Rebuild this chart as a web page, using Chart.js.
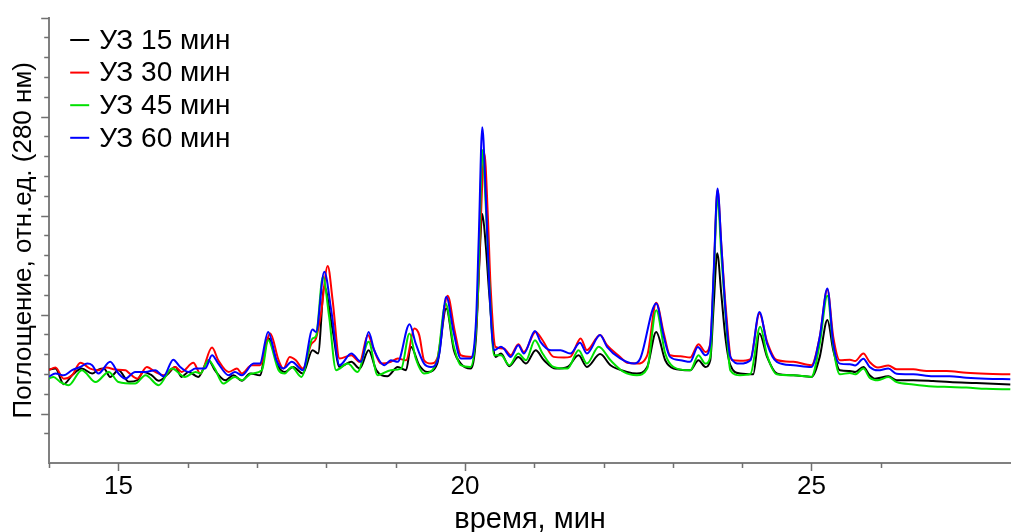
<!DOCTYPE html>
<html>
<head>
<meta charset="utf-8">
<script src="https://cdn.jsdelivr.net/npm/chart.js@4.4.1/dist/chart.umd.min.js"></script>
<style>
  html, body { margin: 0; padding: 0; background: #fff; }
  #wrap { width: 1011px; height: 532px; }
</style>
</head>
<body>
<div id="wrap"><canvas id="hplcChart"></canvas></div>
<script>
const ctx = document.getElementById("hplcChart").getContext("2d");

const labels = ['УЗ 15 мин', 'УЗ 30 мин', 'УЗ 45 мин', 'УЗ 60 мин'];
const colors = ['#000000', '#ff0000', '#00e000', '#0000ff'];

// время, мин / поглощение (отн.ед.)
const t15 = [13.99, 14.09, 14.21, 14.33, 14.47, 14.62, 14.71, 14.79, 14.88, 15.00, 15.15, 15.27, 15.36, 15.48, 15.58, 15.72, 15.82, 15.91, 16.01, 16.15, 16.30, 16.39, 16.54, 16.66, 16.78, 16.90, 17.04, 17.16, 17.31, 17.40, 17.52, 17.66, 17.80, 17.88, 17.97, 18.09, 18.19, 18.36, 18.48, 18.61, 18.72, 18.88, 19.03, 19.15, 19.22, 19.34, 19.46, 19.60, 19.73, 19.84, 19.94, 20.08, 20.16, 20.20, 20.25, 20.30, 20.35, 20.44, 20.52, 20.64, 20.77, 20.88, 21.02, 21.14, 21.31, 21.48, 21.64, 21.76, 21.95, 22.10, 22.34, 22.48, 22.63, 22.76, 22.89, 23.01, 23.25, 23.37, 23.47, 23.54, 23.59, 23.64, 23.70, 23.76, 23.83, 23.97, 24.16, 24.25, 24.36, 24.50, 24.74, 25.00, 25.12, 25.23, 25.315, 25.41, 25.555, 25.63, 25.75, 25.84, 25.915, 26.11, 26.23, 26.47, 26.755, 26.995, 27.38, 27.87];
const y15 = [42.2, 42.7, 34.8, 39.3, 42.7, 40.2, 42.2, 42.7, 38.5, 41.9, 36.0, 36.8, 41.0, 39.3, 36.5, 40.2, 43.5, 38.5, 41.0, 38.5, 46.9, 41.9, 36.8, 39.3, 36.5, 40.2, 39.3, 58.0, 43.5, 41.0, 43.5, 40.2, 52.0, 50.3, 84.0, 62.1, 43.5, 46.1, 42.7, 52.0, 41.9, 38.8, 43.5, 41.9, 53.7, 44.4, 41.0, 45.2, 73.0, 52.0, 45.2, 42.7, 58.7, 90.0, 120.8, 105.0, 80.6, 48.6, 50.3, 43.9, 48.6, 45.2, 52.0, 46.9, 42.7, 43.5, 49.4, 43.5, 50.0, 44.4, 41.0, 40.2, 43.5, 61.2, 46.9, 42.7, 41.8, 46.9, 43.5, 46.9, 75.0, 100.9, 80.0, 58.0, 44.4, 40.2, 39.8, 60.4, 48.6, 40.2, 39.3, 38.5, 48.6, 67.2, 52.0, 41.8, 41.5, 41.0, 43.5, 39.3, 37.6, 38.8, 36.8, 36.8, 36.4, 35.9, 35.4, 34.7];

const t30 = [13.99, 14.09, 14.21, 14.33, 14.45, 14.59, 14.71, 14.83, 14.95, 15.10, 15.15, 15.27, 15.41, 15.53, 15.65, 15.82, 15.91, 16.08, 16.18, 16.35, 16.44, 16.59, 16.71, 16.78, 16.92, 17.04, 17.19, 17.31, 17.38, 17.47, 17.56, 17.66, 17.78, 17.85, 17.92, 18.02, 18.09, 18.19, 18.36, 18.48, 18.60, 18.67, 18.79, 18.93, 19.03, 19.15, 19.27, 19.34, 19.41, 19.51, 19.60, 19.75, 19.85, 19.94, 20.11, 20.18, 20.22, 20.28, 20.33, 20.37, 20.44, 20.56, 20.66, 20.77, 20.85, 21.02, 21.12, 21.28, 21.43, 21.52, 21.67, 21.76, 21.95, 22.05, 22.24, 22.34, 22.48, 22.63, 22.76, 22.87, 22.96, 23.11, 23.25, 23.37, 23.47, 23.54, 23.59, 23.645, 23.70, 23.76, 23.85, 23.97, 24.12, 24.25, 24.36, 24.50, 24.74, 25.00, 25.12, 25.23, 25.315, 25.41, 25.555, 25.63, 25.75, 25.84, 25.96, 26.11, 26.23, 26.47, 26.66, 26.95, 27.235, 27.52, 27.87];
const y30 = [41.9, 43.2, 37.6, 39.3, 45.6, 42.7, 41.9, 43.2, 42.2, 41.9, 40.5, 37.6, 43.5, 41.0, 39.3, 43.5, 41.0, 45.6, 40.2, 53.3, 46.9, 41.0, 42.7, 40.2, 44.4, 44.4, 60.4, 46.9, 42.7, 48.6, 46.9, 42.7, 55.0, 57.9, 70.0, 94.5, 77.3, 47.8, 49.4, 46.1, 59.6, 53.7, 45.2, 46.1, 47.8, 46.9, 62.9, 59.6, 46.9, 45.2, 47.8, 79.5, 62.1, 49.4, 48.6, 73.9, 110.0, 151.4, 120.0, 84.0, 53.7, 52.8, 49.4, 55.0, 51.1, 61.2, 57.0, 48.6, 48.3, 48.6, 57.9, 52.0, 59.6, 54.5, 48.6, 45.6, 45.2, 49.4, 75.9, 60.4, 49.4, 48.9, 48.3, 55.0, 51.1, 55.3, 90.0, 132.9, 105.0, 75.0, 47.0, 46.6, 47.5, 70.5, 56.2, 47.0, 46.1, 44.4, 58.7, 82.6, 58.7, 46.9, 47.2, 46.5, 50.3, 46.0, 43.2, 44.3, 42.3, 42.3, 41.5, 41.5, 40.6, 40.1, 39.8];

const t45 = [13.99, 14.06, 14.16, 14.28, 14.47, 14.67, 14.86, 15.00, 15.24, 15.39, 15.58, 15.77, 15.96, 16.11, 16.18, 16.30, 16.39, 16.51, 16.68, 16.78, 16.92, 17.07, 17.16, 17.31, 17.40, 17.50, 17.64, 17.80, 17.85, 17.95, 18.04, 18.14, 18.31, 18.45, 18.61, 18.74, 18.93, 19.08, 19.20, 19.29, 19.41, 19.60, 19.72, 19.84, 19.94, 20.08, 20.18, 20.21, 20.25, 20.30, 20.35, 20.42, 20.52, 20.64, 20.77, 20.88, 21.01, 21.12, 21.28, 21.48, 21.64, 21.76, 21.93, 22.10, 22.29, 22.48, 22.63, 22.76, 22.89, 23.01, 23.25, 23.37, 23.47, 23.54, 23.59, 23.645, 23.70, 23.76, 23.83, 23.97, 24.12, 24.26, 24.36, 24.50, 24.74, 25.00, 25.12, 25.23, 25.315, 25.41, 25.555, 25.63, 25.75, 25.84, 25.96, 26.11, 26.23, 26.47, 26.755, 26.995, 27.235, 27.52, 27.87];
const y45 = [37.6, 38.5, 35.9, 34.3, 41.9, 35.9, 41.0, 35.9, 35.1, 39.3, 34.3, 42.7, 38.5, 41.0, 40.2, 46.9, 42.7, 35.1, 38.5, 36.8, 40.2, 41.9, 57.0, 41.9, 40.2, 43.5, 38.5, 57.9, 59.0, 89.1, 68.8, 41.9, 45.2, 41.0, 56.2, 39.3, 41.9, 42.7, 60.4, 47.8, 40.2, 47.0, 75.6, 53.7, 44.4, 43.5, 75.6, 110.0, 153.1, 125.0, 87.4, 49.4, 49.4, 44.4, 50.3, 46.9, 57.0, 50.3, 43.5, 42.7, 52.0, 45.2, 53.7, 46.9, 41.0, 39.3, 42.7, 72.2, 50.3, 43.5, 41.8, 49.4, 45.2, 48.6, 88.0, 129.5, 100.0, 70.0, 41.8, 39.3, 40.0, 63.8, 49.4, 39.8, 39.3, 38.5, 55.3, 79.5, 53.6, 39.8, 40.5, 39.8, 42.7, 38.1, 36.8, 38.4, 35.9, 34.7, 33.7, 33.4, 33.1, 32.5, 32.2];

const t60 = [13.99, 14.09, 14.21, 14.33, 14.45, 14.55, 14.62, 14.71, 14.88, 15.00, 15.10, 15.24, 15.39, 15.53, 15.65, 15.79, 15.89, 16.01, 16.11, 16.25, 16.35, 16.44, 16.59, 16.68, 16.78, 16.95, 17.04, 17.16, 17.28, 17.38, 17.50, 17.66, 17.80, 17.85, 17.97, 18.07, 18.19, 18.36, 18.50, 18.61, 18.69, 18.84, 18.93, 19.03, 19.20, 19.29, 19.41, 19.51, 19.63, 19.73, 19.84, 19.94, 20.08, 20.16, 20.20, 20.25, 20.30, 20.35, 20.42, 20.52, 20.56, 20.66, 20.77, 20.85, 21.01, 21.09, 21.24, 21.38, 21.52, 21.66, 21.76, 21.95, 22.05, 22.24, 22.44, 22.53, 22.76, 22.87, 22.96, 23.11, 23.25, 23.36, 23.47, 23.54, 23.59, 23.645, 23.70, 23.76, 23.83, 23.97, 24.12, 24.25, 24.36, 24.50, 24.74, 25.00, 25.12, 25.23, 25.315, 25.41, 25.555, 25.63, 25.75, 25.84, 25.96, 26.11, 26.23, 26.47, 26.755, 26.995, 27.235, 27.52, 27.87];
const y60 = [38.5, 40.2, 39.3, 41.9, 43.5, 45.2, 44.4, 40.2, 46.1, 40.2, 37.6, 41.0, 41.0, 41.9, 38.8, 47.2, 43.5, 41.0, 42.7, 42.7, 49.4, 45.2, 39.3, 41.0, 39.3, 45.2, 45.2, 61.2, 46.9, 42.7, 46.1, 41.9, 62.4, 61.2, 91.6, 72.2, 44.4, 50.3, 46.1, 61.2, 52.0, 44.4, 46.9, 46.1, 65.1, 55.3, 45.2, 43.5, 50.3, 79.0, 60.4, 47.8, 47.8, 67.1, 110.0, 164.6, 130.0, 85.0, 52.0, 53.7, 52.8, 48.6, 54.5, 50.3, 61.7, 56.2, 52.0, 52.0, 50.3, 55.7, 50.3, 59.6, 53.7, 47.8, 45.2, 47.8, 75.6, 58.7, 48.6, 46.9, 46.1, 53.6, 49.4, 55.3, 92.0, 133.7, 105.0, 72.0, 48.6, 45.2, 46.9, 71.3, 55.3, 46.1, 44.4, 43.5, 58.7, 83.1, 55.3, 45.2, 44.9, 44.3, 47.7, 43.5, 41.8, 42.7, 40.1, 39.8, 38.8, 38.8, 38.1, 37.6, 37.3];

const times = [t15, t30, t45, t60];
const values = [y15, y30, y45, y60];

const xMajor = [15, 20, 25];
const yMajor = [20, 70, 120, 170, 220];

const fontName = "'Liberation Sans', Arial, sans-serif";

// draws the small outside tick marks (long ones on the labelled steps)
const tickMarks = {
    id: 'tickMarks',
    afterDraw(chart) {
        const c = chart.ctx;
        const xs = chart.scales.x;
        const ys = chart.scales.y;
        c.save();
        c.strokeStyle = '#707070';
        c.lineWidth = 1.5;
        c.beginPath();
        xs.ticks.forEach(tk => {
            if (!Number.isInteger(tk.value)) return;
            const px = Math.round(xs.getPixelForValue(tk.value)) + 0.5;
            const len = xMajor.includes(tk.value) ? 8 : 5;
            c.moveTo(px, xs.top);
            c.lineTo(px, xs.top + len);
        });
        ys.ticks.forEach(tk => {
            if (tk.value < 0 || tk.value % 10 !== 0) return;
            const py = Math.round(ys.getPixelForValue(tk.value)) + 0.5;
            const len = yMajor.includes(tk.value) ? 8 : 5;
            c.moveTo(ys.right - len, py);
            c.lineTo(ys.right, py);
        });
        c.stroke();
        c.restore();
    }
};

// legend in the top-left corner of the plot
const cornerLegend = {
    id: 'cornerLegend',
    afterDraw(chart) {
        const c = chart.ctx;
        const area = chart.chartArea;
        c.save();
        c.font = "28px " + fontName;
        c.textBaseline = 'middle';
        chart.data.datasets.forEach((ds, i) => {
            const y = area.top + 22.5 + i * 32.6;
            c.strokeStyle = ds.borderColor;
            c.lineWidth = 2;
            c.beginPath();
            c.moveTo(area.left + 21, y);
            c.lineTo(area.left + 40, y);
            c.stroke();
            c.fillStyle = '#000';
            c.fillText(ds.label, area.left + 50, y + 1);
        });
        c.restore();
    }
};

const hplcData = {
    datasets: labels.map((label, i) => ({
        label,
        data: times[i].map((t, k) => ({ x: t, y: values[i][k] })),
        borderColor: colors[i],
        borderWidth: 2,
        pointRadius: 0,
        fill: false,
        cubicInterpolationMode: 'monotone',
        order: 4 - i,
    }))
};

const hplcConfig = {
    type: 'line',
    data: hplcData,
    plugins: [tickMarks, cornerLegend],
    options: {
        responsive: true,
        maintainAspectRatio: false,
        animation: false,
        layout: {
            padding: { top: 17.5, right: 0, bottom: 0, left: 0 }
        },
        plugins: {
            legend: { display: false },
            tooltip: { enabled: false }
        },
        scales: {
            x: {
                type: 'linear',
                min: 14,
                max: 27.88,
                afterFit(scale) {
                    scale.paddingLeft = 0;
                    scale.paddingRight = 0;
                },
                grid: { drawOnChartArea: false, drawTicks: false },
                border: { color: '#808080', width: 2 },
                ticks: {
                    stepSize: 1,
                    autoSkip: false,
                    maxRotation: 0,
                    padding: 8,
                    color: '#000',
                    font: { family: fontName, size: 26, lineHeight: 1.2 },
                    callback: function (xValue) {
                        return xMajor.includes(xValue) ? String(xValue) : '';
                    }
                },
                title: {
                    display: true,
                    text: 'время, мин',
                    color: '#000',
                    padding: { top: 0, bottom: 1.4 },
                    font: { family: fontName, size: 29, lineHeight: 0.703 }
                }
            },
            y: {
                min: -5,
                max: 220,
                grid: { drawOnChartArea: false, drawTicks: false },
                border: { color: '#808080', width: 2 },
                ticks: { display: false, stepSize: 10 },
                title: {
                    display: true,
                    text: 'Поглощение, отн.ед. (280 нм)',
                    color: '#000',
                    padding: { top: 8, bottom: 10 },
                    font: { family: fontName, size: 26, lineHeight: 1.2 }
                }
            }
        }
    }
};

const hplcChart = new Chart(ctx, hplcConfig);
</script>
</body>
</html>
